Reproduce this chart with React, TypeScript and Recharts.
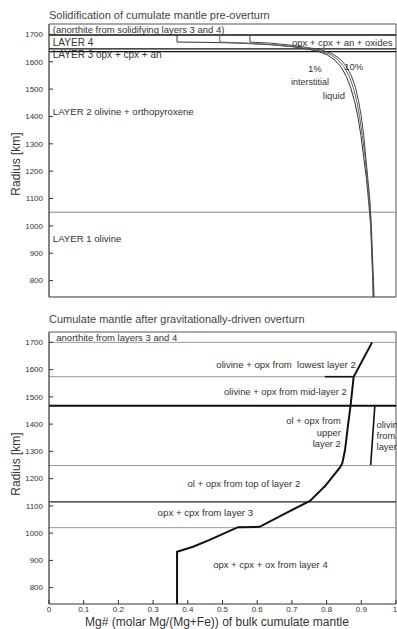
import React from 'react';
import { ComposedChart, Line, XAxis, YAxis, ReferenceLine, ReferenceDot } from 'recharts';

const FONT = '"Liberation Sans", Arial, Helvetica, sans-serif';
const INK = '#333';

// ---- axes ----
const X_TICKS = [0, 0.1, 0.2, 0.3, 0.4, 0.5, 0.6, 0.7, 0.8, 0.9, 1];
const X_TICK_LABELS = ['0', '0.1', '0.2', '0.3', '0.4', '0.5', '0.6', '0.7', '0.8', '0.9', '1'];
const Y_TICKS = [800, 900, 1000, 1100, 1200, 1300, 1400, 1500, 1600, 1700];
const MG_DOMAIN = [0, 1];
const RADIUS_DOMAIN = [740, 1738];

// ---- titles ----
const TITLE_PRE = 'Solidification of cumulate mantle pre-overturn';
const TITLE_POST = 'Cumulate mantle after gravitationally-driven overturn';
const Y_LABEL = 'Radius [km]';
const X_LABEL = 'Mg# (molar Mg/(Mg+Fe)) of bulk cumulate mantle';

// ---- pre-overturn Mg# profiles (x = Mg#, r = radius km) ----
const PRE_1PCT = [
  { x: 0.369, r: 1698 }, { x: 0.369, r: 1672 }, { x: 0.45, r: 1671 }, { x: 0.55, r: 1668 },
  { x: 0.64, r: 1662 }, { x: 0.70, r: 1655 }, { x: 0.742, r: 1647 }, { x: 0.775, r: 1638 },
  { x: 0.802, r: 1625 }, { x: 0.824, r: 1606 }, { x: 0.842, r: 1580 }, { x: 0.857, r: 1546 },
  { x: 0.870, r: 1503 }, { x: 0.881, r: 1453 }, { x: 0.890, r: 1400 }, { x: 0.899, r: 1330 },
  { x: 0.907, r: 1250 }, { x: 0.915, r: 1170 }, { x: 0.921, r: 1090 }, { x: 0.927, r: 1000 },
  { x: 0.930, r: 900 }, { x: 0.933, r: 800 }, { x: 0.934, r: 740 },
];
const PRE_MID = [
  { x: 0.492, r: 1698 }, { x: 0.492, r: 1672 }, { x: 0.56, r: 1669 }, { x: 0.64, r: 1663 },
  { x: 0.70, r: 1656 }, { x: 0.745, r: 1648 }, { x: 0.78, r: 1640 }, { x: 0.81, r: 1627 },
  { x: 0.832, r: 1608 }, { x: 0.85, r: 1582 }, { x: 0.865, r: 1548 }, { x: 0.877, r: 1505 },
  { x: 0.887, r: 1455 }, { x: 0.895, r: 1400 }, { x: 0.903, r: 1330 }, { x: 0.911, r: 1250 },
  { x: 0.917, r: 1170 }, { x: 0.923, r: 1090 }, { x: 0.928, r: 1000 }, { x: 0.931, r: 900 },
  { x: 0.934, r: 800 }, { x: 0.935, r: 740 },
];
const PRE_10PCT = [
  { x: 0.579, r: 1698 }, { x: 0.579, r: 1672 }, { x: 0.64, r: 1668 }, { x: 0.70, r: 1660 },
  { x: 0.745, r: 1652 }, { x: 0.785, r: 1643 }, { x: 0.815, r: 1630 }, { x: 0.838, r: 1611 },
  { x: 0.856, r: 1585 }, { x: 0.871, r: 1550 }, { x: 0.883, r: 1507 }, { x: 0.892, r: 1457 },
  { x: 0.900, r: 1400 }, { x: 0.907, r: 1330 }, { x: 0.913, r: 1250 }, { x: 0.919, r: 1170 },
  { x: 0.925, r: 1090 }, { x: 0.929, r: 1000 }, { x: 0.932, r: 900 }, { x: 0.935, r: 800 },
  { x: 0.937, r: 740 },
];

// ---- post-overturn Mg# profile ----
const POST_CURVE = [
  { x: 0.369, r: 740 }, { x: 0.369, r: 932 }, { x: 0.415, r: 950 }, { x: 0.463, r: 975 },
  { x: 0.511, r: 1003 }, { x: 0.545, r: 1022 }, { x: 0.607, r: 1023 }, { x: 0.68, r: 1072 },
  { x: 0.752, r: 1118 }, { x: 0.795, r: 1172 }, { x: 0.838, r: 1240 }, { x: 0.845, r: 1256 },
  { x: 0.853, r: 1304 }, { x: 0.862, r: 1399 }, { x: 0.869, r: 1467 }, { x: 0.878, r: 1574 },
  { x: 0.931, r: 1700 },
];

// ---- layer boundaries (radius km) ----
const PRE_TOP = 1738;
const PRE_AN_BASE = 1698;
const PRE_L4_BASE = 1647;
const PRE_L3_TOP = 1637;
const PRE_L2_BASE = 1050;

const POST_TOP = 1738;
const POST_THIN = [1700, 1574, 1248, 1020];
const POST_THICK = 1467;
const POST_MID = 1115;
const POST_STEP = [{ x: 0.795, y: 1574 }, { x: 0.878, y: 1574 }];
const POST_COLUMN = [{ x: 0.939, y: 1467 }, { x: 0.927, y: 1250 }];

// ---- annotations (x = Mg#, r = radius) ----
const PRE_NOTES = [
  { text: '(anorthite from solidifying layers 3 and 4)', x: 0.011, r: 1719, anchor: 'start', size: 9.5 },
  { text: 'LAYER 4', x: 0.011, r: 1672, anchor: 'start', size: 10 },
  { text: 'opx + cpx + an + oxides', x: 0.99, r: 1668, anchor: 'end', size: 9.5 },
  { text: 'LAYER 3 opx + cpx + an', x: 0.011, r: 1628, anchor: 'start', size: 10 },
  { text: '1%', x: 0.766, r: 1574, anchor: 'middle', size: 9.5 },
  { text: '10%', x: 0.878, r: 1582, anchor: 'middle', size: 9.5 },
  { text: 'interstitial', x: 0.752, r: 1528, anchor: 'middle', size: 9 },
  { text: 'liquid', x: 0.821, r: 1477, anchor: 'middle', size: 9.5 },
  { text: 'LAYER 2 olivine + orthopyroxene', x: 0.011, r: 1418, anchor: 'start', size: 9.6 },
  { text: 'LAYER 1 olivine', x: 0.011, r: 952, anchor: 'start', size: 9.6 },
];
const POST_NOTES = [
  { text: 'anorthite from layers 3 and 4', x: 0.021, r: 1717, anchor: 'start', size: 9.5 },
  { text: 'olivine + opx from\u00a0 lowest layer 2', x: 0.884, r: 1620, anchor: 'end', size: 9.6 },
  { text: 'olivine + opx from mid-layer 2', x: 0.858, r: 1519, anchor: 'end', size: 9.4 },
  { text: 'ol + opx from', x: 0.841, r: 1413, anchor: 'end', size: 9.4 },
  { text: 'upper', x: 0.841, r: 1370, anchor: 'end', size: 9.4 },
  { text: 'layer 2', x: 0.841, r: 1328, anchor: 'end', size: 9.4 },
  { text: 'olivine', x: 0.944, r: 1397, anchor: 'start', size: 9.4 },
  { text: 'from', x: 0.944, r: 1358, anchor: 'start', size: 9.4 },
  { text: 'layer 1', x: 0.944, r: 1318, anchor: 'start', size: 9.4 },
  { text: 'ol + opx from top of layer 2', x: 0.399, r: 1182, anchor: 'start', size: 9.5 },
  { text: 'opx + cpx from layer 3', x: 0.313, r: 1075, anchor: 'start', size: 9.7 },
  { text: 'opx + cpx + ox from layer 4', x: 0.473, r: 883, anchor: 'start', size: 9.5 },
];

type Note = { text: string; x: number; r: number; anchor: string; size: number };

const renderNote = (n: Note) => (
  <ReferenceDot
    key={n.text + n.r}
    x={n.x}
    y={n.r}
    r={0}
    fill="none"
    stroke="none"
    label={(props: any) => {
      const vb = props.viewBox || {};
      return (
        <text
          x={vb.x}
          y={vb.y}
          dy="0.35em"
          textAnchor={n.anchor as any}
          fontSize={n.size}
          fontFamily={FONT}
          fill={INK}
        >
          {n.text}
        </text>
      );
    }}
  />
);

const xTickFmt = (v: number) => X_TICK_LABELS[X_TICKS.indexOf(v)] ?? String(v);

const axisTick = { fontSize: 8, fill: INK, fontFamily: FONT };

function PrePanel() {
  return (
    <ComposedChart width={397} height={310} margin={{ top: 24, right: 1, left: 0, bottom: 12 }}>
      <XAxis
        type="number"
        dataKey="x"
        domain={MG_DOMAIN}
        ticks={X_TICKS}
        tick={false}
        tickSize={-4}
        height={1}
        allowDataOverflow
        axisLine={{ stroke: INK, strokeWidth: 1.2 }}
        tickLine={{ stroke: INK }}
      />
      <YAxis
        type="number"
        dataKey="r"
        domain={RADIUS_DOMAIN}
        ticks={Y_TICKS}
        width={49}
        tickSize={-4}
        tickMargin={10}
        allowDataOverflow
        tick={axisTick}
        axisLine={{ stroke: INK, strokeWidth: 1.2 }}
        tickLine={{ stroke: INK }}
      />
      <ReferenceLine y={PRE_TOP} stroke="#555" strokeWidth={1} />
      <ReferenceLine x={1} stroke="#555" strokeWidth={1} />
      <ReferenceLine y={PRE_AN_BASE} stroke="#111" strokeWidth={1.4} />
      <ReferenceLine y={PRE_L4_BASE} stroke="#111" strokeWidth={1.2} />
      <ReferenceLine y={PRE_L3_TOP} stroke="#111" strokeWidth={1.2} />
      <ReferenceLine y={PRE_L2_BASE} stroke="#888" strokeWidth={1} />
      <Line data={PRE_1PCT} dataKey="r" type="linear" stroke="#333" strokeWidth={1} dot={false} isAnimationActive={false} />
      <Line data={PRE_MID} dataKey="r" type="linear" stroke="#666" strokeWidth={1} dot={false} isAnimationActive={false} />
      <Line data={PRE_10PCT} dataKey="r" type="linear" stroke="#444" strokeWidth={1} dot={false} isAnimationActive={false} />
      {PRE_NOTES.map(renderNote)}
    </ComposedChart>
  );
}

function PostPanel() {
  return (
    <ComposedChart width={397} height={319} margin={{ top: 22, right: 1, left: 0, bottom: 1 }}>
      <XAxis
        type="number"
        dataKey="x"
        domain={MG_DOMAIN}
        ticks={X_TICKS}
        tickFormatter={xTickFmt}
        tickSize={-4}
        tickMargin={6}
        height={24}
        allowDataOverflow
        tick={axisTick}
        axisLine={{ stroke: INK, strokeWidth: 1.2 }}
        tickLine={{ stroke: INK }}
      />
      <YAxis
        type="number"
        dataKey="r"
        domain={RADIUS_DOMAIN}
        ticks={Y_TICKS}
        width={49}
        tickSize={-4}
        tickMargin={10}
        allowDataOverflow
        tick={axisTick}
        axisLine={{ stroke: INK, strokeWidth: 1.2 }}
        tickLine={{ stroke: INK }}
      />
      <ReferenceLine y={POST_TOP} stroke="#555" strokeWidth={1} />
      <ReferenceLine x={1} stroke="#555" strokeWidth={1} />
      {POST_THIN.map((r) => (
        <ReferenceLine key={r} y={r} stroke="#999" strokeWidth={1} />
      ))}
      <ReferenceLine y={POST_THICK} stroke="#111" strokeWidth={2} />
      <ReferenceLine y={POST_MID} stroke="#222" strokeWidth={1.3} />
      <ReferenceLine segment={POST_STEP} stroke="#111" strokeWidth={1.6} />
      <ReferenceLine segment={POST_COLUMN} stroke="#111" strokeWidth={1.6} />
      <Line data={POST_CURVE} dataKey="r" type="linear" stroke="#111" strokeWidth={2} dot={false} isAnimationActive={false} />
      {POST_NOTES.map(renderNote)}
    </ComposedChart>
  );
}

export default function App() {
  const titleStyle: React.CSSProperties = {
    position: 'absolute',
    left: 49,
    fontFamily: FONT,
    fontSize: 11,
    lineHeight: '13px',
    color: '#444',
    whiteSpace: 'nowrap',
  };
  const yLabelStyle: React.CSSProperties = {
    position: 'absolute',
    left: 16,
    fontFamily: FONT,
    fontSize: 12,
    lineHeight: '13px',
    color: INK,
    whiteSpace: 'nowrap',
    transform: 'translate(-50%, -50%) rotate(-90deg)',
  };
  return (
    <div style={{ position: 'absolute', left: 0, top: 0, width: 397, height: 629, background: '#fff', overflow: 'hidden' }}>
      <div style={{ ...titleStyle, top: 9 }}>{TITLE_PRE}</div>
      <div style={{ ...titleStyle, top: 313 }}>{TITLE_POST}</div>
      <div style={{ ...yLabelStyle, top: 164 }}>{Y_LABEL}</div>
      <div style={{ ...yLabelStyle, top: 464 }}>{Y_LABEL}</div>
      <div style={{ position: 'absolute', left: 0, top: 0 }}>
        <PrePanel />
      </div>
      <div style={{ position: 'absolute', left: 0, top: 310 }}>
        <PostPanel />
      </div>
      <div
        style={{
          position: 'absolute',
          left: 217,
          top: 622,
          transform: 'translate(-50%, -50%)',
          fontFamily: FONT,
          fontSize: 12,
          lineHeight: '13px',
          color: INK,
          whiteSpace: 'nowrap',
        }}
      >
        {X_LABEL}
      </div>
    </div>
  );
}
